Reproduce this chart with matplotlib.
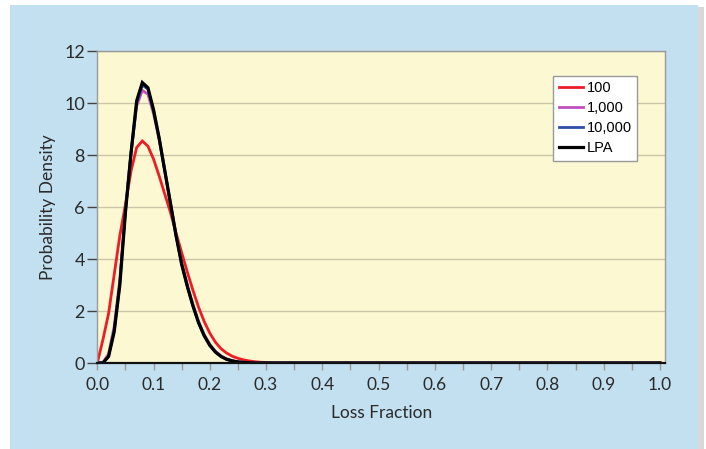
import matplotlib
matplotlib.use('Agg')
import matplotlib.pyplot as plt
from matplotlib.patches import Rectangle
from matplotlib.ticker import MultipleLocator

# Colours
cor_painel   = '#C2E0F0'
cor_area     = '#FBF8D2'
cor_grade    = '#C9C5A6'
cor_borda    = '#9A9A9A'
cor_texto    = '#2A2A2A'

# Loss fraction grid (0.00 .. 1.00 step 0.01)
loss_fraction = [i / 100 for i in range(101)]

# Density curves (0.00 .. 0.30), zero afterwards
dens_100 = [0.0, 0.9, 1.9, 3.4, 4.9, 6.1, 7.4, 8.3, 8.55, 8.35,
            7.85, 7.2, 6.5, 5.8, 5.0, 4.25, 3.5, 2.8, 2.15, 1.6,
            1.15, 0.8, 0.55, 0.38, 0.26, 0.18, 0.12, 0.08, 0.05, 0.03,
            0.02] + [0.0] * 70
dens_1000 = [0.0, 0.02, 0.35, 1.4, 3.2, 5.9, 8.1, 9.9, 10.5, 10.35,
             9.6, 8.6, 7.4, 6.15, 4.95, 3.85, 3.0, 2.25, 1.6, 1.1,
             0.72, 0.45, 0.27, 0.16, 0.09, 0.05, 0.03, 0.01, 0.0, 0.0,
             0.0] + [0.0] * 70
dens_10000 = [0.0, 0.0, 0.27, 1.25, 3.05, 5.85, 8.1, 10.0, 10.7, 10.55,
              9.7, 8.65, 7.4, 6.15, 4.9, 3.8, 2.95, 2.2, 1.55, 1.05,
              0.68, 0.42, 0.25, 0.14, 0.08, 0.04, 0.02, 0.01, 0.0, 0.0,
              0.0] + [0.0] * 70
dens_lpa = [0.0, 0.0, 0.25, 1.2, 3.0, 5.8, 8.1, 10.1, 10.8, 10.6,
            9.75, 8.65, 7.4, 6.15, 4.9, 3.8, 2.95, 2.2, 1.55, 1.05,
            0.68, 0.42, 0.25, 0.14, 0.08, 0.04, 0.02, 0.01, 0.0, 0.0,
            0.0] + [0.0] * 70

series = [
    ('100', dens_100, '#EE1C25', 2.0),
    ('1,000', dens_1000, '#C04FC0', 2.0),
    ('10,000', dens_10000, '#2E4FA8', 2.0),
    ('LPA', dens_lpa, '#000000', 2.3),
]

fonte_eixo = ['Lato', 'DejaVu Sans']

fig = plt.figure(figsize=(7.06, 4.49), dpi=100)
fig.patch.set_facecolor('white')

# Blue panel with a small shadow on the right
fig.patches.append(Rectangle((12 / 706, 0), 692 / 706, 1 - 7 / 449,
                             transform=fig.transFigure, facecolor='#D8D8D8',
                             edgecolor='none', zorder=-3))
fig.patches.append(Rectangle((10 / 706, 0), 688 / 706, 1 - 5 / 449,
                             transform=fig.transFigure, facecolor=cor_painel,
                             edgecolor='none', zorder=-2))

ax = fig.add_axes([97.3 / 706, 1 - 363 / 449, (665 - 97.3) / 706, (363 - 51.4) / 449])
ax.set_zorder(2)
ax.set_facecolor(cor_area)

for label, dens, cor, lw in series:
    ax.plot(loss_fraction, dens, color=cor, linewidth=lw, label=label,
            solid_joinstyle='miter')

ax.set_xlim(0, 1.009)
ax.set_ylim(0, 12)
ax.xaxis.set_minor_locator(MultipleLocator(0.05))
ax.yaxis.set_major_locator(MultipleLocator(2))
ax.set_xticks([i / 10 for i in range(11)])
ax.set_xticklabels([f'{i / 10:.1f}' for i in range(11)])

ax.grid(axis='y', color=cor_grade, linewidth=1.0)
ax.set_axisbelow(True)

for lado in ['top', 'right', 'left']:
    ax.spines[lado].set_color(cor_borda)
    ax.spines[lado].set_linewidth(1.0)
ax.spines['bottom'].set_color('#111111')
ax.spines['bottom'].set_linewidth(1.6)

ax.tick_params(axis='x', which='both', direction='out', length=5, width=1,
               color=cor_borda, labelsize=12.5, labelcolor=cor_texto, pad=5)
ax.tick_params(axis='y', direction='out', length=7, width=1,
               color='#444444', labelsize=13, labelcolor=cor_texto, pad=2)
for t in ax.get_xticklabels() + ax.get_yticklabels():
    t.set_family(fonte_eixo)

ax.set_xlabel('Loss Fraction', family=fonte_eixo, fontsize=12.5,
              color=cor_texto, labelpad=9)
ax.set_ylabel('Probability Density', family=fonte_eixo, fontsize=12.5,
              color=cor_texto, labelpad=6)

leg = ax.legend(loc='upper right', bbox_to_anchor=(0.951, 0.921),
                borderaxespad=0, fancybox=False, framealpha=1,
                edgecolor=cor_borda, facecolor='white',
                prop={'family': 'Liberation Sans', 'size': 10.5},
                handlelength=1.65, handletextpad=0.3, labelspacing=0.42,
                borderpad=0.35)
leg.get_frame().set_linewidth(1.0)

fig.savefig('out.png', dpi=100, facecolor='white')
